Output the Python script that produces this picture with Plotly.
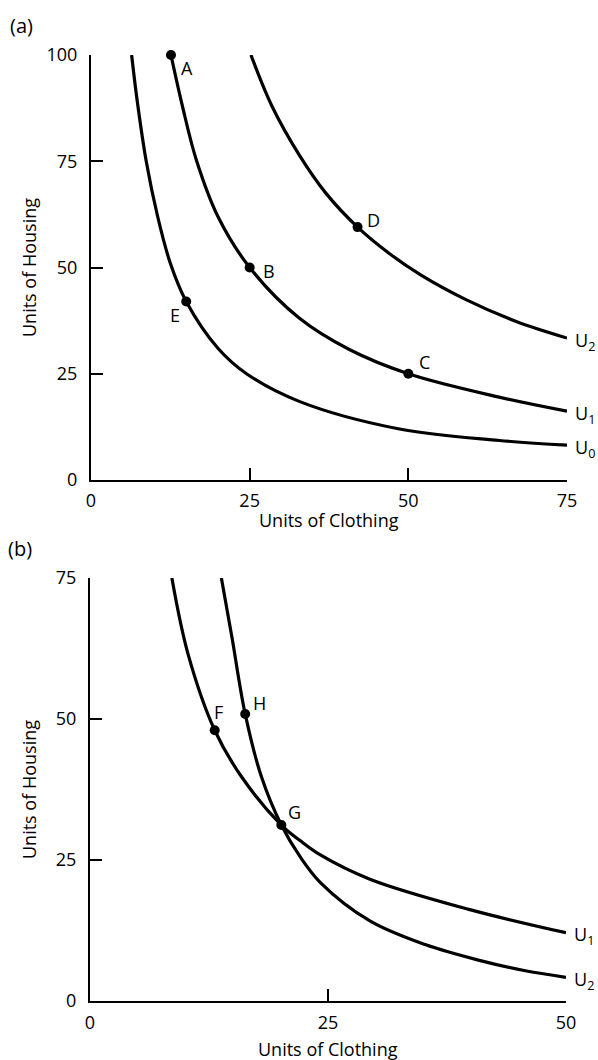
import plotly.graph_objects as go

FONT = "Open Sans"
W, H = 598, 1060

# ---------- panel (a): three indifference curves ----------
a_u0_x = [6.4, 7.3, 8.7, 10.5, 12.5, 15.0, 20.0, 24.5, 32.8, 48.6, 64.3, 75.0]
a_u0_y = [100, 89, 75, 62, 51, 42, 31, 25, 18.5, 12, 9.3, 8.2]
a_u1_x = [12.6, 14.4, 16.6, 20.0, 25.0, 32.8, 40.7, 50.0, 64.3, 75.0]
a_u1_y = [100, 88, 75.3, 62, 50, 38.1, 30.7, 25, 19.5, 16.2]
a_u2_x = [25.2, 28.5, 32.8, 37.0, 42.0, 47.0, 52.0, 59.0, 67.0, 75.0]
a_u2_y = [100, 88, 76.5, 67.5, 59.5, 53.3, 48.2, 42.5, 37.3, 33.4]

a_pt_names = ["A", "B", "C", "D", "E"]
a_pt_x = [12.6, 25.0, 50.0, 42.0, 15.0]
a_pt_y = [100, 50, 25, 59.5, 42]
a_lbl_shift = [(16, -13), (19, -3), (16, 12), (16, 7), (-11, -13)]

a_curve_names = ["U<sub>0</sub>", "U<sub>1</sub>", "U<sub>2</sub>"]
a_xticks = [0, 25, 50, 75]
a_yticks = [0, 25, 50, 75, 100]

# ---------- panel (b): two crossing indifference curves ----------
b_u1_x = [8.6, 10.3, 13.1, 15.9, 20.1, 22.1, 24.2, 29.4, 39.9, 50.0]
b_u1_y = [75, 61.5, 48, 39.8, 31.2, 28.4, 25.9, 21.6, 16.2, 12.1]
b_u2_x = [13.8, 14.9, 16.3, 18.0, 20.1, 22.1, 24.2, 29.4, 35.2, 40.9, 45.6, 50.0]
b_u2_y = [75, 64.6, 50.9, 39.8, 31.2, 25.5, 21, 14.2, 10.0, 7.2, 5.4, 4.2]

b_pt_names = ["F", "G", "H"]
b_pt_x = [13.1, 20.1, 16.3]
b_pt_y = [48, 31.2, 50.9]
b_lbl_shift = [(4, 18), (13, 13), (14, 11)]

b_curve_names = ["U<sub>1</sub>", "U<sub>2</sub>"]
b_xticks = [0, 25, 50]
b_yticks = [0, 25, 50, 75]

fig = go.Figure()


def add_curve(xs, ys, xa, ya):
    fig.add_trace(go.Scatter(
        x=xs, y=ys, xaxis=xa, yaxis=ya, mode="lines",
        line=dict(color="black", width=3.2, shape="spline", smoothing=1.0),
        cliponaxis=False, hoverinfo="skip", showlegend=False))


def add_points(xs, ys, xa, ya):
    fig.add_trace(go.Scatter(
        x=xs, y=ys, xaxis=xa, yaxis=ya, mode="markers",
        marker=dict(color="black", size=10),
        cliponaxis=False, hoverinfo="skip", showlegend=False))


add_curve(a_u0_x, a_u0_y, "x", "y")
add_curve(a_u1_x, a_u1_y, "x", "y")
add_curve(a_u2_x, a_u2_y, "x", "y")
add_points(a_pt_x, a_pt_y, "x", "y")

add_curve(b_u1_x, b_u1_y, "x2", "y2")
add_curve(b_u2_x, b_u2_y, "x2", "y2")
add_points(b_pt_x, b_pt_y, "x2", "y2")

annotations = []
lbl_font = dict(family=FONT, size=18, color="black")

for name, x, y, (dx, dy) in zip(a_pt_names, a_pt_x, a_pt_y, a_lbl_shift):
    annotations.append(dict(x=x, y=y, xref="x", yref="y", text=name,
                            showarrow=False, xshift=dx, yshift=dy, font=lbl_font))
for name, x, y, (dx, dy) in zip(b_pt_names, b_pt_x, b_pt_y, b_lbl_shift):
    annotations.append(dict(x=x, y=y, xref="x2", yref="y2", text=name,
                            showarrow=False, xshift=dx, yshift=dy, font=lbl_font))

# curve names at the right-hand end of each curve
for name, xs, ys in zip(a_curve_names, [a_u0_x, a_u1_x, a_u2_x], [a_u0_y, a_u1_y, a_u2_y]):
    annotations.append(dict(x=xs[-1], y=ys[-1], xref="x", yref="y", text=name,
                            showarrow=False, xanchor="left", xshift=6, yshift=-3,
                            font=lbl_font))
for name, xs, ys in zip(b_curve_names, [b_u1_x, b_u2_x], [b_u1_y, b_u2_y]):
    annotations.append(dict(x=xs[-1], y=ys[-1], xref="x2", yref="y2", text=name,
                            showarrow=False, xanchor="left", xshift=6, yshift=-3,
                            font=lbl_font))

# panel tags and axis titles
annotations += [
    dict(x=8 / W, y=1 - 25 / H, xref="paper", yref="paper", text="(a)",
         showarrow=False, xanchor="left", yanchor="middle",
         font=dict(family=FONT, size=20, color="black")),
    dict(x=6 / W, y=1 - 548 / H, xref="paper", yref="paper", text="(b)",
         showarrow=False, xanchor="left", yanchor="middle",
         font=dict(family=FONT, size=20, color="black")),
    dict(x=329 / W, y=1 - 520 / H, xref="paper", yref="paper", text="Units of Clothing",
         showarrow=False, xanchor="center", yanchor="middle", font=lbl_font),
    dict(x=328 / W, y=1 - 1049 / H, xref="paper", yref="paper", text="Units of Clothing",
         showarrow=False, xanchor="center", yanchor="middle", font=lbl_font),
    dict(x=29 / W, y=1 - 268 / H, xref="paper", yref="paper", text="Units of Housing",
         showarrow=False, textangle=-90, xanchor="center", yanchor="middle", font=lbl_font),
    dict(x=29 / W, y=1 - 790 / H, xref="paper", yref="paper", text="Units of Housing",
         showarrow=False, textangle=-90, xanchor="center", yanchor="middle", font=lbl_font),
]

axis_common = dict(
    showline=True, linecolor="black", linewidth=2,
    ticks="inside", ticklen=12, tickwidth=2, tickcolor="black",
    showgrid=False, zeroline=False, automargin=False,
    tickfont=dict(family=FONT, size=18, color="black"),
    fixedrange=True,
)

fig.update_layout(
    width=W, height=H,
    margin=dict(l=0, r=0, t=0, b=0, autoexpand=False),
    paper_bgcolor="white", plot_bgcolor="white",
    showlegend=False,
    xaxis=dict(axis_common, domain=[91 / W, 567 / W], range=[0, 75],
               tickvals=a_xticks, anchor="y", ticklabelstandoff=3),
    yaxis=dict(axis_common, domain=[1 - 480 / H, 1 - 55 / H], range=[0, 100],
               tickvals=a_yticks, anchor="x", ticklabelstandoff=8),
    xaxis2=dict(axis_common, domain=[90 / W, 566 / W], range=[0, 50],
                tickvals=b_xticks, anchor="y2", ticklabelstandoff=4),
    yaxis2=dict(axis_common, domain=[1 - 1001 / H, 1 - 578 / H], range=[0, 75],
                tickvals=b_yticks, anchor="x2", ticklabelstandoff=8),
    annotations=annotations,
)

fig.write_html("out.html")
